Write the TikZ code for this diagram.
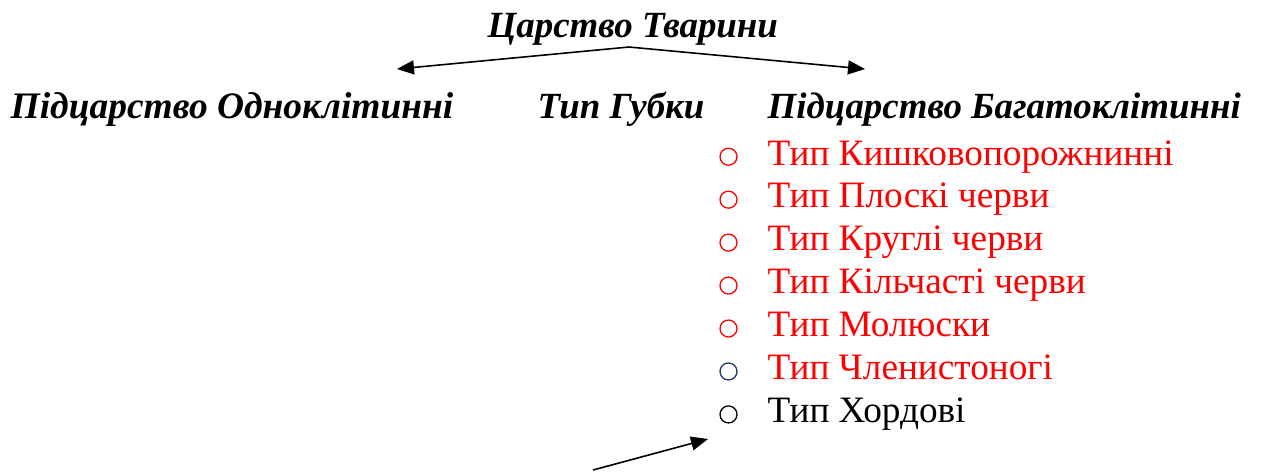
\documentclass[tikz,border=0pt]{standalone}
\usepackage{fontspec}
\setmainfont{Liberation Serif}
\usetikzlibrary{arrows.meta}
\definecolor{typered}{RGB}{255,0,0}
\definecolor{markblue}{RGB}{31,56,100}

\begin{document}
\begin{tikzpicture}[
 head/.style={font=\fontsize{10.5}{12}\selectfont\bfseries\itshape,inner sep=0pt,anchor=base west},
 item/.style={font=\fontsize{10.6}{12}\selectfont,inner sep=0pt,anchor=base west},
 ring/.style={circle,draw,line width=0.37pt,minimum size=0.17cm,inner sep=0pt},
 arr/.style={line width=0.45pt,-{Triangle[length=1.7mm,width=1.4mm]}}]
 \useasboundingbox (0,0) rectangle (12.64,-4.72);
 % headings
 \node[head] (kingdom) at (4.87,-0.37) {Царство Тварини};
 \node[head,font=\fontsize{10.65}{12}\selectfont\bfseries\itshape] (uni) at (0.10,-1.18) {Підцарство Одноклітинні};
 \node[head] (sponge) at (5.37,-1.18) {Тип Губки};
 \node[head] (multi) at (7.67,-1.18) {Підцарство Багатоклітинні};
 % arrows from the kingdom
 \coordinate (fork) at (6.29,-0.47);
 \coordinate (unitip) at (3.97,-0.69);
 \coordinate (multitip) at (8.65,-0.69);
 \draw[arr] (fork) -- (unitip);
 \draw[arr] (fork) -- (multitip);
 % list of types
 \foreach \txt/\tc/\mc [count=\i from 0] in {Тип Кишковопорожнинні/typered/typered,
   Тип Плоскі черви/typered/typered, Тип Круглі черви/typered/typered,
   Тип Кільчасті черви/typered/typered, Тип Молюски/typered/typered,
   Тип Членистоногі/typered/markblue, Тип Хордові/black/black}{
  \node[item,text=\tc] (type\i) at (7.67,{-1.65-0.4295*\i}) {\txt};
  \node[ring,draw=\mc] (dot\i) at (7.285,{-1.567-0.4295*\i}) {};
 }
 % lone arrow at the bottom
 \coordinate (tail) at (5.93,-4.70);
 \coordinate (tip) at (7.08,-4.39);
 \draw[arr] (tail) -- (tip);
\end{tikzpicture}
\end{document}
